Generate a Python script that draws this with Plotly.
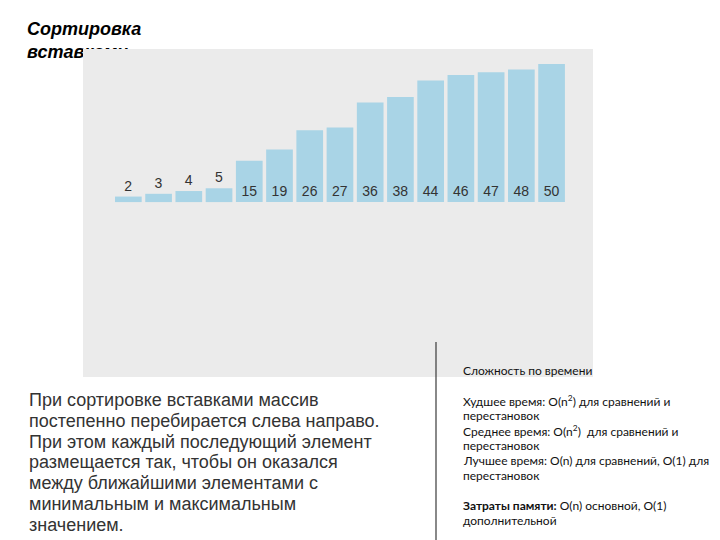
import plotly.graph_objects as go

# values shown on the bars (sorted array after insertion sort)
values = [2, 3, 4, 5, 15, 19, 26, 27, 36, 38, 44, 46, 47, 48, 50]
categories = [str(v) for v in values]
label_pos = ["outside"] * 4 + ["inside"] * 11

title_text = "Сортировка<br>вставками"
body_lines = [
    "При сортировке вставками массив",
    "постепенно перебирается слева направо.",
    "При этом каждый последующий элемент",
    "размещается так, чтобы он оказался",
    "между ближайшими элементами с",
    "минимальным и максимальным",
    "значением.",
]
complexity_lines = [
    "Сложность по времени",
    "",
    "Худшее время: O(n<sup>2</sup>) для сравнений и",
    "перестановок",
    "Среднее время: O(n<sup>2</sup>)  для сравнений и",
    "перестановок",
    "Лучшее время: O(n) для сравнений, O(1) для",
    "перестановок",
    "",
    "<b>Затраты памяти:</b> O(n) основной, O(1)",
    "дополнительной",
]

W, H = 720, 540
BAR_COLOR = "#a9d4e6"
PANEL = "#ebebeb"

fig = go.Figure()

# title lives in a full-page subplot underneath the grey panel (panel clips it)
fig.add_trace(
    go.Scatter(
        x=[27], y=[42],
        mode="text",
        text=[title_text],
        textposition="middle right",
        textfont=dict(family="Liberation Sans", size=18, color="#000000",
                      weight="bold", style="italic"),
        hoverinfo="skip",
        cliponaxis=False,
        xaxis="x", yaxis="y",
    )
)

fig.add_trace(
    go.Bar(
        x=categories,
        y=values,
        text=categories,
        textposition=label_pos,
        insidetextanchor="start",
        textangle=0,
        constraintext="none",
        cliponaxis=False,
        marker=dict(color=BAR_COLOR, line=dict(width=0)),
        textfont=dict(family="Liberation Sans", size=14, color="#333333"),
        outsidetextfont=dict(family="Liberation Sans", size=14, color="#333333"),
        insidetextfont=dict(family="Liberation Sans", size=14, color="#333333"),
        hoverinfo="skip",
        xaxis="x2", yaxis="y2",
    )
)

x2_range = [-1.5, 15.37]
y2_range = [-63.3, 55.4]

fig.update_layout(
    width=W, height=H,
    margin=dict(l=0, r=0, t=0, b=0),
    paper_bgcolor="white",
    plot_bgcolor="rgba(0,0,0,0)",
    showlegend=False,
    bargap=0.117,
    xaxis=dict(domain=[0, 1], range=[0, W], visible=False, fixedrange=True),
    yaxis=dict(domain=[0, 1], range=[H, 0], visible=False, fixedrange=True),
    xaxis2=dict(domain=[83 / W, 593 / W], range=x2_range, visible=False,
                anchor="y2", type="category"),
    yaxis2=dict(domain=[1 - 377 / H, 1 - 49 / H], range=y2_range, visible=False,
                anchor="x2"),
)

# grey panel, drawn in the bar subplot's layer so it covers the title
fig.add_shape(
    type="rect", xref="x2", yref="y2",
    x0=x2_range[0], x1=x2_range[1], y0=y2_range[0], y1=y2_range[1],
    fillcolor=PANEL, line=dict(width=0), layer="below",
)

# divider line
fig.add_shape(
    type="line", xref="paper", yref="paper",
    x0=436 / W, x1=436 / W, y0=0, y1=1 - 342 / H,
    line=dict(color="#3a3a3a", width=1.2),
)

# left paragraph, one annotation per line to keep the tight leading
for i, line in enumerate(body_lines):
    fig.add_annotation(
        text=line,
        xref="paper", yref="paper",
        x=27 / W, y=1 - (400 + i * 20.8) / H,
        xanchor="left", yanchor="middle",
        align="left", showarrow=False,
        font=dict(family="Liberation Sans", size=18, color="#333333"),
    )

# complexity notes on the right
for i, line in enumerate(complexity_lines):
    if not line:
        continue
    fig.add_annotation(
        text=line,
        xref="paper", yref="paper",
        x=461 / W, y=1 - (370.5 + i * 15) / H,
        xanchor="left", yanchor="middle",
        align="left", showarrow=False,
        font=dict(family="Lato", size=12, color="#111111"),
    )

fig.write_html(
    "out.html",
    config={"displayModeBar": False},
    post_script="document.body.style.margin='0';",
)
